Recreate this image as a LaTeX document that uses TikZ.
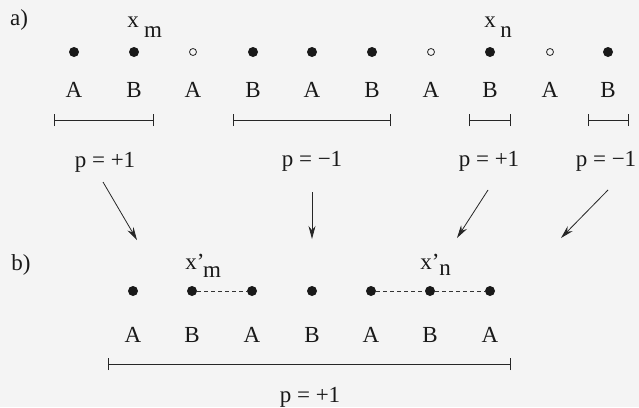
\documentclass[tikz,border=0pt]{standalone}
\usepackage{fontspec}
\setmainfont{Liberation Serif}
\usetikzlibrary{arrows.meta}
\begin{document}
\begin{tikzpicture}[x=1pt,y=-1pt,
  dotf/.style={circle,fill=black!90,inner sep=0pt,minimum size=10pt},
  doto/.style={circle,draw=black!85,line width=0.8pt,inner sep=0pt,minimum size=7pt},
  lab/.style={font=\fontsize{23}{27}\selectfont,inner sep=0pt,text=black!90},
  plab/.style={font=\fontsize{23}{27}\selectfont,inner sep=0pt,text=black!90},
  barline/.style={line width=0.9pt,draw=black!85},
  arr/.style={line width=0.8pt,draw=black!85,-{Stealth[length=13pt,width=7pt]}},
  dsh/.style={line width=0.8pt,draw=black!80,dash pattern=on 4pt off 3pt}]
\fill[gray!9] (0,0) rectangle (639,407);
\useasboundingbox (0,0) rectangle (639,407);

% panel labels
\node[lab] (pa) at (19,20) {a)};
\node[lab] (pb) at (21,265) {b)};

% row a
\foreach \i/\x/\s/\l in {1/74/dotf/A,2/134/dotf/B,3/193/doto/A,4/253/dotf/B,5/312/dotf/A,
                         6/372/dotf/B,7/431/doto/A,8/490/dotf/B,9/550/doto/A,10/608/dotf/B}{
  \node[\s] (a\i) at (\x,52) {};
  \node[lab] (la\i) at (\x,90) {\l};
}
\node[lab] (xm) at (133,22) {x};
\node[lab] (xmsub) at (153,32) {m};
\node[lab] (xn) at (490,22) {x};
\node[lab] (xnsub) at (506,32) {n};

% bars row a
\foreach \k/\xa/\xb in {1/54/153,2/233/390,3/469/510,4/588/628}{
  \coordinate (bl\k) at (\xa,120);
  \coordinate (br\k) at (\xb,120);
  \draw[barline] (bl\k) -- (br\k);
  \draw[barline] ([yshift=-6pt]bl\k) -- ([yshift=6pt]bl\k);
  \draw[barline] ([yshift=-6pt]br\k) -- ([yshift=6pt]br\k);
}

% p labels row a
\node[plab] (p1) at (105,162) {p = +1};
\node[plab] (p2) at (312,161) {p = −1};
\node[plab] (p3) at (489,161) {p = +1};
\node[plab] (p4) at (606,161) {p = −1};

% arrows
\coordinate (s1) at (103,182); \coordinate (e1) at (137,240);
\coordinate (s2) at (312,192); \coordinate (e2) at (312,239);
\coordinate (s3) at (488,190); \coordinate (e3) at (457,238);
\coordinate (s4) at (608,190); \coordinate (e4) at (561,238);
\foreach \k in {1,2,3,4}{ \draw[arr] (s\k) -- (e\k); }

% row b
\foreach \i/\x/\l in {1/133/A,2/192/B,3/252/A,4/312/B,5/371/A,6/430/B,7/490/A}{
  \node[dotf] (b\i) at (\x,291) {};
  \node[lab] (lb\i) at (\x,335) {\l};
}
\draw[dsh] (b2) -- (b3);
\draw[dsh] (b5) -- (b6);
\draw[dsh] (b6) -- (b7);

\node[lab] (xpm) at (195,262) {x’};
\node[lab] (xpmsub) at (212,272) {m};
\node[lab] (xpn) at (430,262) {x’};
\node[lab] (xpnsub) at (445,270) {n};

% bar row b
\coordinate (cl) at (108,364);
\coordinate (cr) at (510,364);
\draw[barline] (cl) -- (cr);
\draw[barline] ([yshift=-6pt]cl) -- ([yshift=6pt]cl);
\draw[barline] ([yshift=-6pt]cr) -- ([yshift=6pt]cr);
\node[plab] (pb1) at (310,397) {p = +1};
\end{tikzpicture}
\end{document}
